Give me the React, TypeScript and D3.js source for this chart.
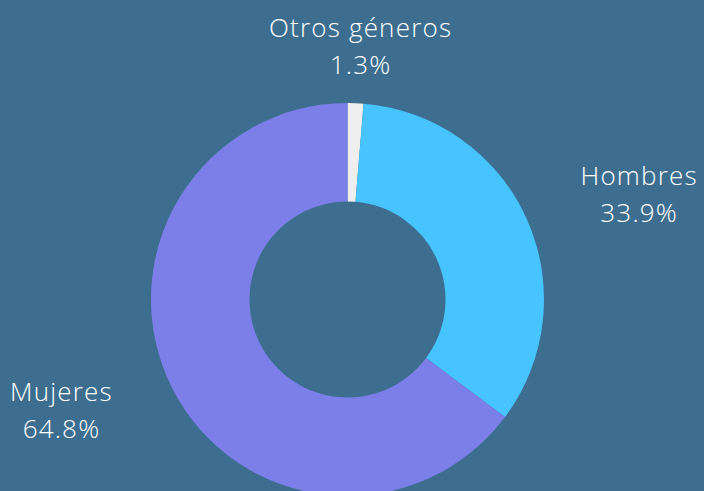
import React from "react";
import * as d3 from "d3";

const categories = ["Otros géneros", "Hombres", "Mujeres"];
const values = [1.3, 33.9, 64.8];
const colors = ["#eeeeee", "#47c3fd", "#7c7fe7"];

const W = 704;
const H = 491;
const BG = "#3d6e90";

export default function App() {
  const cx = 347.5;
  const cy = 299.5;
  const outerR = 196.5;
  const innerR = 98;
  const labelRx = 320;
  const labelRy = 252;

  const data = categories.map((c, i) => ({ name: c, value: values[i], color: colors[i] }));
  const pie = d3.pie<any>().value((d) => d.value).sort(null);
  const arcs = pie(data);
  const arc = d3.arc<any>().innerRadius(innerR).outerRadius(outerR);

  return (
    <>
      <style>{`html,body{margin:0;padding:0;background:${BG};overflow:hidden;}`}</style>
      <svg width={W} height={H} style={{ display: "block", background: BG }}>
        <rect width={W} height={H} fill={BG} />
        <g transform={`translate(${cx},${cy})`}>
          {arcs.map((a, i) => (
            <path key={i} d={arc(a) as string} fill={a.data.color} />
          ))}
          {arcs.map((a, i) => {
            const mid = (a.startAngle + a.endAngle) / 2;
            const x = labelRx * Math.sin(mid);
            const y = -labelRy * Math.cos(mid);
            return (
              <g key={"l" + i} transform={`translate(${x},${y})`} fill="#ffffff"
                fontFamily="'Open Sans', 'Noto Sans', sans-serif" fontSize={26} fontWeight={300}
                letterSpacing={1.2} textAnchor="middle">
                <text y={-11}>{a.data.name}</text>
                <text y={26}>{`${a.data.value.toFixed(1)}%`}</text>
              </g>
            );
          })}
        </g>
      </svg>
    </>
  );
}
